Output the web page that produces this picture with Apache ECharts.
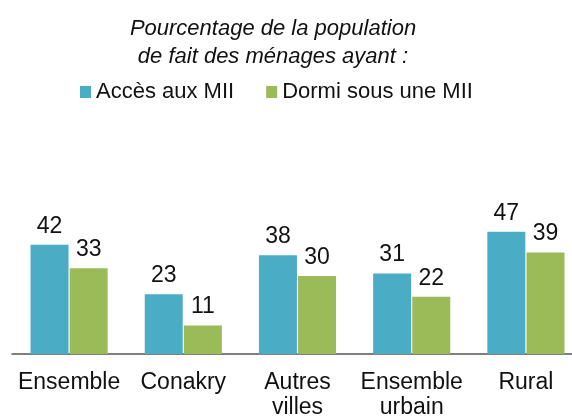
<!DOCTYPE html>
<html>
<head>
<meta charset="utf-8">
<script src="https://cdn.jsdelivr.net/npm/echarts@6/dist/echarts.min.js"></script>
<style>html,body{margin:0;padding:0;background:#fff}#c{width:572px;height:417px}</style>
</head>
<body>
<div id="c"></div>
<script>
const categories = ['Ensemble', 'Conakry', 'Autres\nvilles', 'Ensemble\nurbain', 'Rural'];
const accesMII = [42, 23, 38, 31, 47];
const dormiMII = [33, 11, 30, 22, 39];
const seriesNames = ['Accès aux MII', 'Dormi sous une MII'];

const font = 'Liberation Sans, Arial, sans-serif';
const chart = echarts.init(document.getElementById('c'));
chart.setOption({
  animation: false,
  title: {
    text: 'Pourcentage de la population\nde fait des ménages ayant :',
    left: 268, top: 10, textAlign: 'center',
    textStyle: { fontFamily: font, fontStyle: 'italic', fontWeight: 'normal', fontSize: 22, lineHeight: 28, color: '#111' }
  },
  legend: {
    left: 75, top: 76, itemWidth: 11, itemHeight: 12, itemGap: 32,
    icon: 'rect',
    textStyle: { fontFamily: font, fontSize: 22, color: '#111', padding: [0, 0, 0, 0] },
    data: seriesNames
  },
  grid: { left: 12, width: 571, top: 224, bottom: 63, containLabel: false, outerBoundsMode: 'none' },
  xAxis: {
    type: 'category', data: categories,
    axisLine: { lineStyle: { color: '#555', width: 1.5 } },
    axisTick: { show: false },
    axisLabel: { fontFamily: font, fontSize: 23, color: '#111', lineHeight: 25, margin: 16, interval: 0 }
  },
  yAxis: { type: 'value', min: 0, max: 50, show: false, splitLine: { show: false } },
  series: [
    {
      name: seriesNames[0], type: 'bar', data: accesMII, barWidth: 38, barGap: '3%',
      itemStyle: { color: '#4BACC6' },
      label: { show: true, position: 'top', distance: 7, fontFamily: font, fontSize: 23, color: '#111' }
    },
    {
      name: seriesNames[1], type: 'bar', data: dormiMII, barWidth: 38,
      itemStyle: { color: '#9BBB59' },
      label: { show: true, position: 'top', distance: 7, fontFamily: font, fontSize: 23, color: '#111' }
    }
  ]
});
</script>
</body>
</html>
